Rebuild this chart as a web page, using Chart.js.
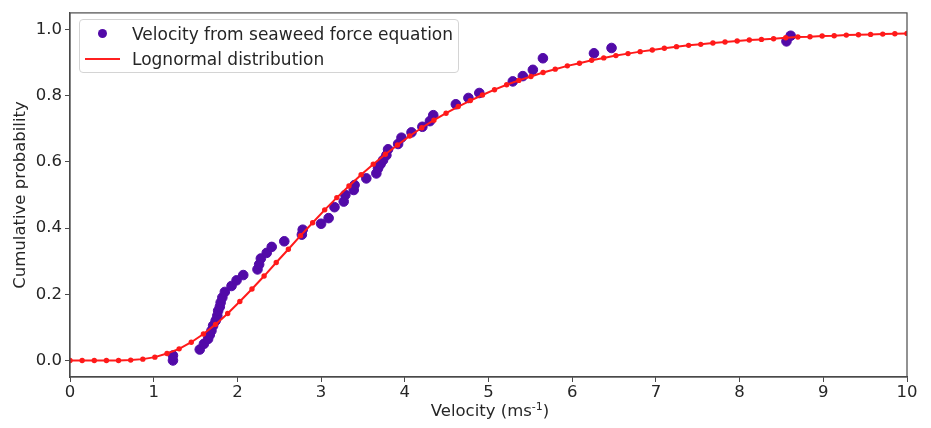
<!DOCTYPE html>
<html>
<head>
<meta charset="utf-8">
<script src="https://cdn.jsdelivr.net/npm/chart.js@4/dist/chart.umd.min.js"></script>
<style>
  html, body { margin: 0; padding: 0; background: #fff; }
  #wrap { position: relative; width: 931px; height: 428px; }
  #legend {
    position: absolute; left: 79px; top: 19px; width: 380px; height: 54px;
    border: 1px solid #d4d4d4; border-radius: 4px; background: rgba(255,255,255,0.85);
    font-family: "DejaVu Sans", sans-serif; font-size: 17px; color: #262626;
    box-sizing: border-box;
  }
  .row { position: absolute; left: 0; height: 22px; line-height: 22px; white-space: nowrap; }
  .row span.label { position: absolute; left: 52px; }
  .dot { position: absolute; left: 18px; top: 6px; width: 9px; height: 9px; border-radius: 50%; background: #520aa8; }
  .line { position: absolute; left: 5px; top: 10px; width: 35px; height: 2px; background: #ff2020; }
  #xtitle {
    position: absolute; left: 0; width: 980px; top: 401px; text-align: center;
    font-family: "DejaVu Sans", sans-serif; font-size: 16.5px; color: #262626; white-space: nowrap;
  }
  #xtitle sup { font-size: 11px; vertical-align: 6px; line-height: 0; }
</style>
</head>
<body>
<div id="wrap">
  <canvas id="chart" width="931" height="428"></canvas>
  <div id="legend">
    <div class="row" style="top:3px"><div class="dot"></div><span class="label">Velocity from seaweed force equation</span></div>
    <div class="row" style="top:28px"><div class="line"></div><span class="label">Lognormal distribution</span></div>
  </div>
  <div id="xtitle">Velocity (ms<sup>-1</sup>)</div>
</div>
<script>
// Measured points (velocity, cumulative probability)
const obsVelocity = [1.23, 1.23, 1.55, 1.60, 1.65, 1.67, 1.69, 1.71, 1.74, 1.76, 1.77, 1.79, 1.80, 1.82, 1.85,
  1.93, 1.99, 2.07, 2.24, 2.26, 2.28, 2.35, 2.41, 2.56, 2.77, 2.78, 3.00, 3.09, 3.16, 3.27, 3.29, 3.39, 3.40,
  3.54, 3.66, 3.68, 3.71, 3.74, 3.78, 3.80, 3.92, 3.96, 4.08, 4.21, 4.30, 4.34, 4.61, 4.76, 4.89, 5.29, 5.41,
  5.53, 5.65, 6.26, 6.47, 8.56, 8.61];
const obsProb = [0.000, 0.015, 0.033, 0.050, 0.065, 0.077, 0.090, 0.105, 0.120, 0.135, 0.150, 0.162, 0.175, 0.190, 0.207,
  0.225, 0.242, 0.258, 0.275, 0.290, 0.308, 0.325, 0.343, 0.360, 0.380, 0.395, 0.413, 0.430, 0.463, 0.480, 0.500, 0.515, 0.530,
  0.550, 0.565, 0.580, 0.593, 0.605, 0.620, 0.638, 0.654, 0.673, 0.689, 0.706, 0.723, 0.741, 0.774, 0.793, 0.808, 0.843, 0.859,
  0.878, 0.913, 0.928, 0.944, 0.964, 0.981];

// Lognormal fit curve
const fitVelocity = [0.000, 0.145, 0.290, 0.435, 0.580, 0.725, 0.870, 1.014, 1.159, 1.304, 1.449, 1.594, 1.739, 1.884,
  2.029, 2.174, 2.319, 2.464, 2.609, 2.754, 2.899, 3.043, 3.188, 3.333, 3.478, 3.623, 3.768, 3.913, 4.058, 4.203,
  4.348, 4.493, 4.638, 4.783, 4.928, 5.072, 5.217, 5.362, 5.507, 5.652, 5.797, 5.942, 6.087, 6.232, 6.377, 6.522,
  6.667, 6.812, 6.957, 7.101, 7.246, 7.391, 7.536, 7.681, 7.826, 7.971, 8.116, 8.261, 8.406, 8.551, 8.696, 8.841,
  8.986, 9.130, 9.275, 9.420, 9.565, 9.710, 9.855, 10.000];
const fitProb = [0.000, 0.000, 0.000, 0.000, 0.000, 0.001, 0.004, 0.010, 0.021, 0.035, 0.055, 0.080, 0.109, 0.142,
  0.178, 0.216, 0.255, 0.296, 0.336, 0.377, 0.416, 0.455, 0.492, 0.527, 0.561, 0.593, 0.623, 0.651, 0.678, 0.703,
  0.726, 0.747, 0.767, 0.785, 0.802, 0.818, 0.833, 0.846, 0.858, 0.870, 0.880, 0.890, 0.898, 0.907, 0.914, 0.921,
  0.927, 0.933, 0.938, 0.943, 0.948, 0.952, 0.955, 0.959, 0.962, 0.965, 0.968, 0.970, 0.972, 0.975, 0.977, 0.978,
  0.980, 0.981, 0.983, 0.984, 0.985, 0.986, 0.987, 0.988];

const xTicks = [0, 1, 2, 3, 4, 5, 6, 7, 8, 9, 10];
const yTicks = [0.0, 0.2, 0.4, 0.6, 0.8, 1.0];

const tickFont = { family: "'DejaVu Sans', sans-serif", size: 16.5 };
const textColor = '#262626';
const frameColor = '#4a4a4a';

// full box round the plot area
const framePlugin = {
  id: 'frame',
  afterDraw(chart) {
    const a = chart.chartArea;
    const c = chart.ctx;
    c.save();
    c.strokeStyle = frameColor;
    c.lineWidth = 1.2;
    c.strokeRect(a.left, a.top, a.right - a.left, a.bottom - a.top);
    c.restore();
  }
};

new Chart(document.getElementById('chart'), {
  type: 'scatter',
  data: {
    datasets: [
      {
        label: 'Velocity from seaweed force equation',
        data: obsVelocity.map((v, i) => ({ x: v, y: obsProb[i] })),
        backgroundColor: '#520aa8',
        borderColor: '#520aa8',
        pointRadius: 4.8,
        order: 1
      },
      {
        label: 'Lognormal distribution',
        data: fitVelocity.map((v, i) => ({ x: v, y: fitProb[i] })),
        showLine: true,
        borderColor: '#ff1a1a',
        backgroundColor: '#ff1a1a',
        borderWidth: 2,
        pointRadius: 1.7,
        order: 0
      }
    ]
  },
  options: {
    responsive: false,
    animation: false,
    layout: { padding: { top: 12, right: 24, left: 11, bottom: 0 } },
    plugins: { legend: { display: false }, tooltip: { enabled: false } },
    scales: {
      x: {
        type: 'linear', min: 0, max: 10,
        afterBuildTicks: s => { s.ticks = xTicks.map(v => ({ value: v })); },
        afterFit: s => { s.height = 51; },
        grid: { drawOnChartArea: false, drawTicks: true, tickLength: 5, color: frameColor },
        border: { color: frameColor, width: 1.2 },
        ticks: { color: textColor, font: tickFont, padding: 1, maxRotation: 0 }
      },
      y: {
        type: 'linear', min: -0.05, max: 1.05,
        afterBuildTicks: s => { s.ticks = yTicks.map(v => ({ value: v })); },
        afterFit: s => { s.width = 59; },
        grid: { drawOnChartArea: false, drawTicks: true, tickLength: 5, color: frameColor },
        border: { color: frameColor, width: 1.2 },
        ticks: { color: textColor, font: tickFont, padding: 3, callback: v => v.toFixed(1) },
        title: { display: true, text: 'Cumulative probability', color: textColor, font: tickFont, padding: { top: 0, bottom: 0 } }
      }
    }
  },
  plugins: [framePlugin]
});
</script>
</body>
</html>
